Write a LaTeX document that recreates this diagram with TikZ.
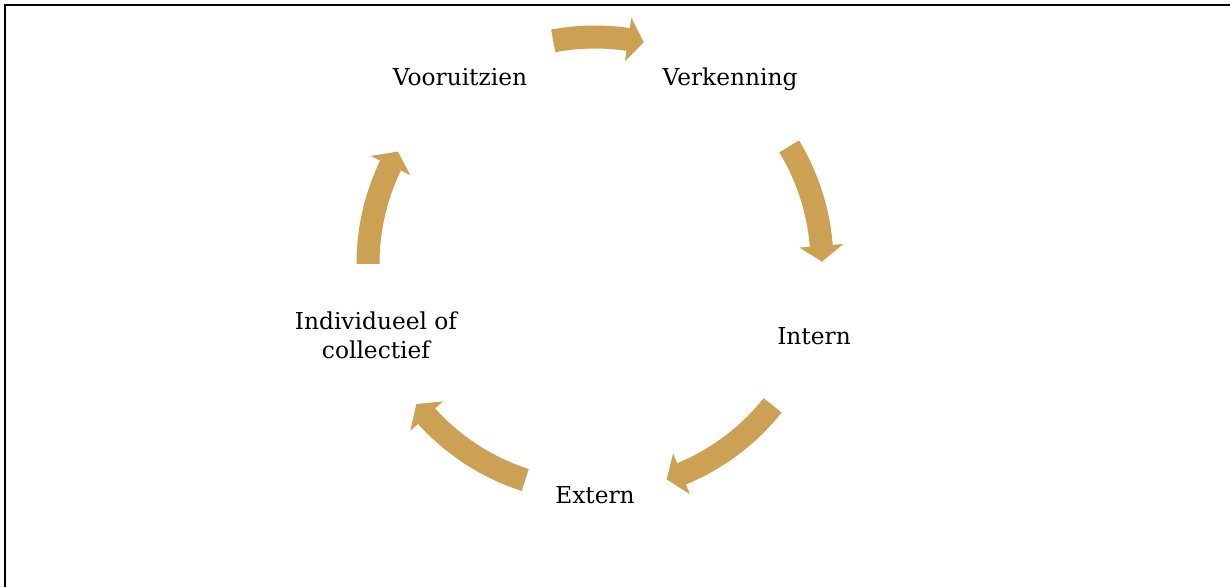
\documentclass[tikz,border=0pt]{standalone}
\usepackage{fontspec}
\setmainfont{DejaVu Serif}
\definecolor{arrowgold}{RGB}{205,161,83}
\begin{document}
\begin{tikzpicture}[x=1pt,y=1pt,
  lbl/.style={font=\fontsize{23.3}{29}\selectfont, inner sep=0pt, anchor=base, align=center},
  cyc/.style={fill=arrowgold}]
\useasboundingbox (0,0) rectangle (1230,587);
\draw[line width=2pt] (5,0) -- (5,582) -- (1230,582);
\node[lbl] (voor) at (460,501) {Vooruitzien};
\node[lbl] (verk) at (730,501) {Verkenning};
\node[lbl] (intern) at (814,243) {Intern};
\node[lbl] (extern) at (595,84) {Extern};
\node[lbl] (indiv) at (376,228.5) {Individueel of\\collectief};
\begin{scope}[shift={(595,323)}]
\foreach \a/\b in {100.6/77.6, 31.2/0.6, -38.5/-71.6, -107.9/-141.9, 180/150.3} {
  \pgfmathsetmacro\h{\b+4}
  \fill[cyc] (\a:238.5pt) arc[start angle=\a, end angle=\h, radius=238.5pt]
    -- (\h:249pt) -- (\b:227pt) -- (\h:205pt) -- (\h:215.5pt)
    arc[start angle=\h, end angle=\a, radius=215.5pt] -- cycle;
}
\end{scope}
\end{tikzpicture}
\end{document}
